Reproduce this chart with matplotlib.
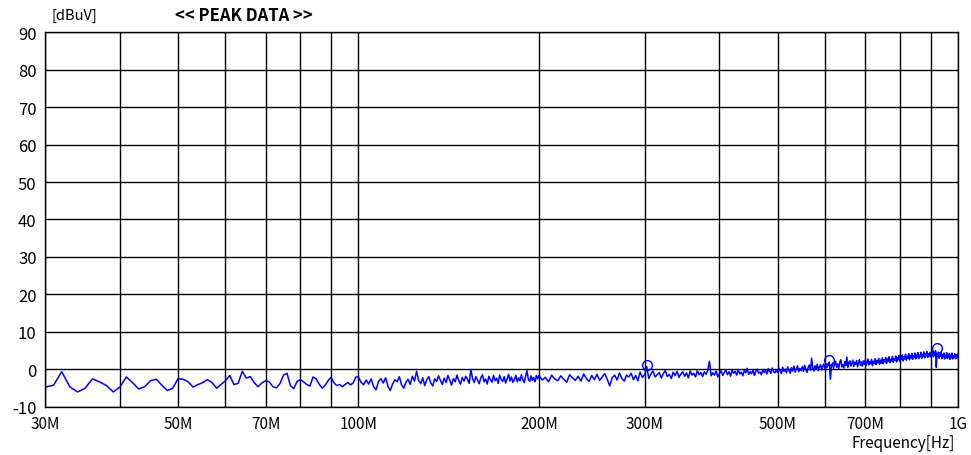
import numpy as np
import matplotlib
matplotlib.use("Agg")
import matplotlib.pyplot as plt
from matplotlib.ticker import FixedLocator, NullFormatter

plt.rcParams['font.family'] = ['Noto Sans CJK JP', 'DejaVu Sans']

# sweep levels [dBuV]
# 30 - 99 MHz, 1 MHz steps
level_a = [-4.7, -4.2, -0.6, -4.6, -6.0, -5.0, -2.5, -3.3, -4.3, -6.0,
           -4.7, -2.0, -3.5, -5.2, -4.6, -3.0, -2.6, -4.2, -5.6, -5.0,
           -2.5, -2.6, -3.3, -4.7, -4.0, -3.5, -2.7, -3.5, -5.0, -4.0,
           -3.0, -1.6, -4.0, -3.7, -0.5, -2.3, -1.9, -3.5, -4.6, -3.6,
           -3.0, -3.3, -4.6, -4.9, -3.7, -1.5, -1.0, -4.3, -5.1, -3.2,
           -2.7, -3.3, -4.0, -4.4, -2.0, -2.5, -3.9, -5.0, -4.2, -3.0,
           -2.1, -3.5, -4.3, -4.0, -4.6, -4.0, -3.5, -4.1, -3.6, -2.0]
# 100 - 199 MHz, 1 MHz steps
level_b = [-2.0, -3.4, -4.1, -2.8, -3.9, -2.5, -4.6, -5.4, -3.2, -2.4,
           -3.6, -2.2, -4.5, -5.6, -3.9, -2.7, -3.3, -1.9, -4.1, -5.0,
           -3.4, -2.6, -4.0, -1.8, -3.1, -0.5, -2.9, -3.8, -2.2, -4.3,
           -2.7, -1.9, -3.6, -4.4, -2.5, -3.2, -1.7, -2.9, -4.0, -2.3,
           -3.5, -1.6, -2.8, -4.2, -2.4, -3.3, -1.5, -3.0, -3.9, -2.1,
           -3.1, -1.8, -2.6, -3.7, 0.0, -2.4, -3.5, -1.9, -2.8, -3.8,
           -2.2, -1.4, -3.3, -2.5, -3.9, -1.8, -2.7, -3.4, -1.6, -3.0,
           -2.3, -3.7, -1.5, -2.6, -3.2, -1.9, -3.6, -2.4, -1.3, -3.1,
           -2.0, -3.4, -2.7, -1.6, -3.3, -2.2, -3.0, -1.4, -2.8, -3.5,
           -1.8, -0.3, -2.6, -3.2, -1.7, -2.9, -2.1, -3.3, -1.6, -2.5]
# 200 - 497.5 MHz, 2.5 MHz steps
level_c = [-1.6, -2.8, -2.1, -3.3, -1.5, -2.5, -3.0, -1.7, -2.6, -3.4,
           -1.4, -2.2, -2.9, -1.8, -3.1, -1.2, -2.4, -3.2, -1.6, -2.7,
           -1.3, -2.9, -2.0, -1.1, -2.6, -4.4, -2.2, -1.5, -2.8, -0.9,
           -2.4, -3.1, -1.5, -2.0, -1.0, -2.7, -1.6, -3.0, -0.7, -2.1,
           -1.5, 0.8, -2.4, -1.2, -0.4, -2.0, -1.4, -0.8, -2.3, -1.1,
           -0.3, -1.9, -1.3, -2.4, -0.7, -1.6, -0.5, -2.1, -1.2, -0.6,
           -1.8, -0.9, -2.2, -0.4, -1.5, -1.0, -2.0, -0.3, -1.4, -0.8,
           -1.9, -0.6, -1.3, -0.2, 2.2, -1.7, -0.9, -1.5, -0.4, -2.0,
           -1.1, -0.3, -1.6, -0.8, -0.1, -1.4, -0.6, -1.8, -0.2, -1.0,
           -0.5, -1.5, 0.0, -1.2, -0.7, -1.7, -0.3, -0.9, 0.3, -1.3,
           -0.6, -1.1, -0.2, -1.6, -0.4, 0.1, -1.0, -0.7, -1.4, 0.0,
           -0.8, -0.3, -1.2, 0.2, -0.5, -1.0, 0.4, -0.6, -0.9, -0.1]
# 500 - 1000 MHz, 2.5 MHz steps
level_d = [-0.8, 0.4, -0.3, -1.1, 0.6, -0.5, 0.1, -0.9, 0.7, -0.2,
           -1.0, 0.5, -0.4, 0.9, -0.7, 0.2, 1.0, -0.6, 0.3, -0.3,
           0.8, -0.5, 1.1, 0.0, -0.8, 0.6, 1.2, -0.2, 3.0, 0.4,
           -0.4, 1.0, 0.2, 1.4, -0.3, 0.7, 1.3, -0.1, 0.9, 1.5,
           0.1, 1.2, 0.5, 1.6, 2.0, -2.6, 0.9, 1.7, 0.3, 1.4,
           2.2, 0.6, 1.5, 0.2, 1.9, 2.6, 0.7, 1.3, 0.4, 2.1,
           1.0, 3.3, 0.6, 1.8, 2.3, 0.9, 1.5, 2.5, 0.8, 1.9,
           1.3, 2.4, 0.7, 1.8, 2.6, 1.1, 2.0, 0.9, 2.3, 1.4,
           2.5, 1.0, 1.9, 2.8, 1.2, 2.1, 1.5, 2.7, 1.0, 2.2,
           1.6, 2.9, 1.3, 2.4, 1.8, 3.0, 1.4, 2.5, 1.7, 3.1,
           1.5, 2.6, 2.0, 3.2, 1.6, 2.8, 2.2, 3.4, 1.8, 2.7,
           2.3, 3.5, 1.9, 2.9, 2.4, 3.6, 2.0, 3.1, 2.6, 3.8,
           2.2, 3.3, 2.7, 3.9, 2.3, 3.4, 2.8, 4.1, 2.5, 3.5,
           3.0, 4.2, 2.6, 3.6, 3.1, 4.3, 2.7, 3.7, 3.2, 4.4,
           2.8, 3.9, 3.3, 4.5, 2.9, 3.8, 3.4, 4.6, 3.0, 4.0,
           3.5, 4.7, 3.1, 4.1, 3.6, 4.8, 3.2, 4.2, 3.7, 4.6,
           3.3, 4.3, 3.8, 4.9, 3.4, 4.4, 3.9, 5.0, 0.6, 4.2,
           3.5, 4.6, 3.0, 4.0, 3.6, 4.5, 2.9, 3.9, 3.4, 4.4,
           2.8, 3.8, 3.3, 4.5, 2.9, 3.7, 3.2, 4.3, 2.7, 3.8,
           3.1, 4.4, 2.8, 3.6, 3.3, 4.2, 2.9, 3.9, 3.0, 4.1,
           3.2]

# sweep frequency grid [MHz] for each segment
freq_a = 30 + 1.0 * np.arange(len(level_a))
freq_b = 100 + 1.0 * np.arange(len(level_b))
freq_c = 200 + 2.5 * np.arange(len(level_c))
freq_d = 500 + 2.5 * np.arange(len(level_d))

freq = np.concatenate([freq_a, freq_b, freq_c, freq_d]) * 1e6
level = np.concatenate([level_a, level_b, level_c, level_d])

# peak markers
peak_freq = [303e6, 610e6, 922e6]
peak_level = [1.3, 2.4, 5.7]

x_ticks = [30e6, 50e6, 70e6, 100e6, 200e6, 300e6, 500e6, 700e6, 1e9]
x_labels = ['30M', '50M', '70M', '100M', '200M', '300M', '500M', '700M', '1G']
x_grid = [40e6, 60e6, 80e6, 90e6, 400e6, 600e6, 800e6, 900e6]
y_ticks = [-10, 0, 10, 20, 30, 40, 50, 60, 70, 80, 90]

fig = plt.figure(figsize=(9.71, 4.56), dpi=100)
ax = fig.add_axes([0.0463, 0.1053, 0.9403, 0.8223])

ax.plot(freq, level, color='#0000ff', lw=1.1)
ax.plot(peak_freq, peak_level, 'o', mfc='none', mec='#0000ff', ms=7, mew=1)

ax.set_xscale('log')
ax.set_xlim(30e6, 1e9)
ax.set_ylim(-10, 90)

ax.xaxis.set_major_locator(FixedLocator(x_ticks))
ax.xaxis.set_minor_locator(FixedLocator(x_grid))
ax.xaxis.set_minor_formatter(NullFormatter())
ax.set_xticklabels(x_labels)
ax.set_yticks(y_ticks)
ax.set_yticklabels([str(v) for v in y_ticks])

ax.grid(which='both', axis='x', color='black', lw=1)
ax.grid(which='major', axis='y', color='black', lw=1)
ax.set_axisbelow(True)
ax.tick_params(which='both', length=0)
ax.tick_params(axis='x', pad=6, labelsize=11)
ax.tick_params(axis='y', pad=6, labelsize=12)
for s in ax.spines.values():
    s.set_color('black')
    s.set_linewidth(1)

fig.text(0.077, 0.965, '[dBuV]', ha='center', va='center', fontsize=10.5)
fig.text(0.251, 0.965, '<< PEAK DATA >>', ha='center', va='center',
         fontsize=12, fontweight='bold')
fig.text(0.983, 0.028, 'Frequency[Hz]', ha='right', va='center', fontsize=11)

fig.savefig('out.png', dpi=100)
